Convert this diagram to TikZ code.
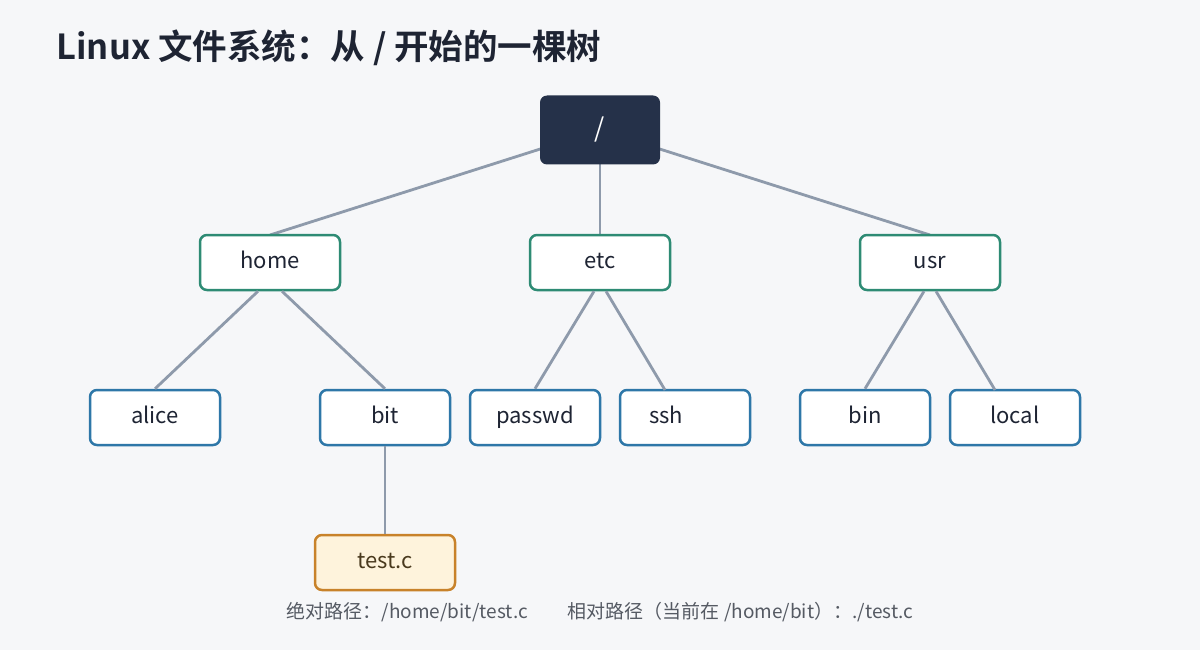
\documentclass[tikz,border=0pt]{standalone}
\usepackage{fontspec}
\setmainfont{Noto Sans CJK SC}
\newfontfamily\titlefont{Noto Sans CJK SC Bold}
\definecolor{bgc}{HTML}{F6F7F9}
\definecolor{rootc}{HTML}{253149}
\definecolor{greenc}{HTML}{2E8B74}
\definecolor{bluec}{HTML}{2E77A8}
\definecolor{orangec}{HTML}{C8822A}
\definecolor{orangefill}{HTML}{FEF3DC}
\definecolor{linec}{HTML}{8E9AAB}
\definecolor{textc}{HTML}{1E2433}
\definecolor{filetext}{HTML}{4A3A1E}
\definecolor{notec}{HTML}{555A63}
\tikzset{
  box/.style={draw, line width=2.5pt, rounded corners=7pt, fill=white, text=textc,
    font=\fontsize{22}{26}\selectfont, inner sep=0pt, text height=1.12em, text depth=0pt},
  dirbox/.style={box, draw=greenc, minimum width=140pt, minimum height=55pt},
  leafbox/.style={box, draw=bluec, minimum width=130pt, minimum height=55pt},
  filebox/.style={box, draw=orangec, fill=orangefill, text=filetext, minimum width=140pt, minimum height=55pt},
  rootbox/.style={rounded corners=7pt, fill=rootc, text=white, minimum width=120pt, minimum height=69pt,
    font=\fontsize{26}{30}\selectfont, inner sep=0pt},
  edge/.style={draw=linec, line width=2.8pt},
}
\begin{document}
\begin{tikzpicture}[x=1pt,y=-1pt]
\fill[bgc] (0,0) rectangle (1200,650);
\useasboundingbox (0,0) rectangle (1200,650);
\node[anchor=west, text=textc, font=\titlefont\fontsize{34.5}{40}\selectfont] (title) at (53,48) {Linux 文件系统：从 / 开始的一棵树};

% edges first
\coordinate (rootc) at (600,130);
\coordinate (homeT) at (270,235);
\coordinate (etcT) at (600,235);
\coordinate (usrT) at (930,235);
\draw[edge] (rootc) -- (homeT);
\draw[edge] (rootc) -- (etcT);
\draw[edge] (rootc) -- (usrT);

\node[rootbox] (root) at (600,130) {/};
\node[dirbox] (home) at (270,262.5) {home};
\node[dirbox] (etc) at (600,262.5) {etc};
\node[dirbox] (usr) at (930,262.5) {usr};

\node[leafbox] (alice) at (155,417.5) {alice};
\node[leafbox] (bit) at (385,417.5) {bit};
\node[leafbox] (passwd) at (535,417.5) {passwd};
\node[leafbox, text width=130pt, align=left] (ssh) at (685,417.5) {\hspace*{29pt}ssh};
\node[leafbox] (bin) at (865,417.5) {bin};
\node[leafbox] (local) at (1015,417.5) {local};
\node[filebox] (testc) at (385,562.5) {test.c};

\coordinate (sshT) at (665,390);
\coordinate (localT) at (995,390);
\draw[edge] ([xshift=-12pt]home.south) -- (alice.north);
\draw[edge] ([xshift=12pt]home.south) -- (bit.north);
\draw[edge] ([xshift=-6pt]etc.south) -- (passwd.north);
\draw[edge] ([xshift=6pt]etc.south) -- (sshT);
\draw[edge] ([xshift=-6pt]usr.south) -- (bin.north);
\draw[edge] ([xshift=6pt]usr.south) -- (localT);
\draw[edge] (bit.south) -- (testc.north);

\node[text=notec, font=\fontsize{19}{22}\selectfont] (note) at (600,612)
  {绝对路径：/home/bit/test.c\hspace{40pt}相对路径（当前在 /home/bit）：./test.c};
\end{tikzpicture}
\end{document}
